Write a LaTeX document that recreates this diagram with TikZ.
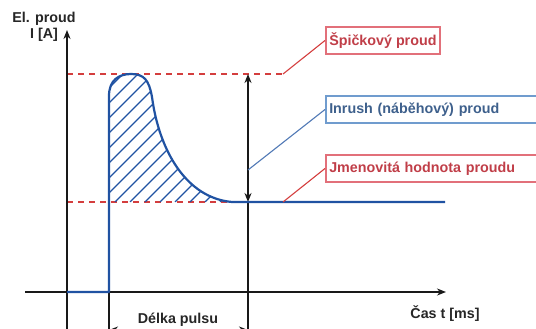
\documentclass[tikz,border=0pt]{standalone}
\usepackage{fontspec}
\setmainfont{Liberation Sans}
\usetikzlibrary{arrows.meta}
\definecolor{dashred}{RGB}{212,62,62}
\definecolor{boxred}{RGB}{226,112,122}
\definecolor{txtred}{RGB}{192,62,72}
\definecolor{boxblue}{RGB}{112,156,206}
\definecolor{txtblue}{RGB}{62,96,140}
\definecolor{curveblue}{RGB}{32,82,162}
\definecolor{linkblue}{RGB}{82,122,182}
\tikzset{
  lbl/.style={font=\fontsize{14.3}{15.5}\selectfont\bfseries, text=black!85, inner sep=0pt},
  axis/.style={line width=1.9pt, black!90},
  refline/.style={dashred, line width=1.4pt, dash pattern=on 6pt off 5pt},
  curve/.style={curveblue, line width=2.2pt, line join=round},
  hatch/.style={curveblue, line width=1.4pt},
  redbox/.style={draw=boxred, line width=1.5pt, text=txtred, anchor=west, inner xsep=3.5pt,
    minimum height=27pt, font=\fontsize{14.3}{15.5}\selectfont\bfseries},
  bluebox/.style={redbox, draw=boxblue, text=txtblue},
  redlink/.style={dashred, line width=1.1pt},
  bluelink/.style={linkblue, line width=1.1pt},
  dimarrow/.style={line width=1.9pt, black!90, {Stealth[length=9pt,width=7pt]}-{Stealth[length=9pt,width=7pt]}}
}
\begin{document}
\begin{tikzpicture}[x=1pt,y=-1pt]
\useasboundingbox (0,0) rectangle (536,329);
\clip (0,0) rectangle (536,329);
% coordinates
\coordinate (yaxB) at (67,340);
\coordinate (yaxT) at (67,30);
\coordinate (xaxL) at (25,292);
\coordinate (xaxR) at (446,292);
\coordinate (peakL) at (67,74);
\coordinate (peakR) at (283,74);
\coordinate (nomL) at (67,202);
\coordinate (nomR) at (283,202);
\coordinate (arrT) at (248,74);
\coordinate (arrB) at (248,202);
\coordinate (arrBot) at (248,340);
\coordinate (inrFoot) at (248,170);
\coordinate (startT) at (109,292);
\coordinate (startB) at (109,340);
\coordinate (origin) at (67,292);
\coordinate (endR) at (445,202);
\coordinate (dimL) at (109,330);
\coordinate (dimR) at (248,330);
% reference lines
\draw[refline] (peakL) -- (peakR);
\draw[refline] (nomL) -- (nomR);
% hatching
\begin{scope}
\clip (109,202) -- (109,96) .. controls (109,80) and (119,74) .. (131,74)
  .. controls (144,74) and (149,80) .. (152,97)
  .. controls (159,150) and (186,198) .. (232,202) -- cycle;
\foreach \i in {-20,-5,...,235} \draw[hatch] (\i,202) -- ++(140,-140);
\end{scope}
% axes
\draw[axis, -{Stealth[length=9pt,width=7pt]}] (yaxB) -- (yaxT);
\draw[axis, -{Stealth[length=9pt,width=7pt]}] (xaxL) -- (xaxR);
\draw[axis] (startT) -- (startB);
\draw[axis] (arrB) -- (arrBot);
\draw[dimarrow] (arrT) -- (arrB);
\draw[dimarrow] (dimL) -- (dimR);
% pulse curve
\draw[curve] (origin) -- (startT) -- (109,96) .. controls (109,80) and (119,74) .. (131,74)
  .. controls (144,74) and (149,80) .. (152,97)
  .. controls (159,150) and (186,198) .. (232,202) -- (endR);
% labels
\node[lbl, align=center] (ylab) at (44,27) {El. proud\\I [A]};
\node[lbl] (xlab) at (445,314) {Čas t [ms]};
\node[lbl, anchor=base] (plab) at (178,323) {Délka pulsu};
% boxes
\node[redbox] (spk) at (325,40.5) {Špičkový proud};
\node[bluebox, text width=230pt, align=left] (inr) at (325,109.5) {Inrush (náběhový) proud};
\node[redbox, text width=230pt, align=left] (jmen) at (325,168.5) {Jmenovitá hodnota proudu};
% connectors
\draw[redlink] (peakR) -- (spk.west);
\draw[bluelink] (inrFoot) -- (inr.west);
\draw[redlink] (nomR) -- (jmen.west);
\end{tikzpicture}
\end{document}
